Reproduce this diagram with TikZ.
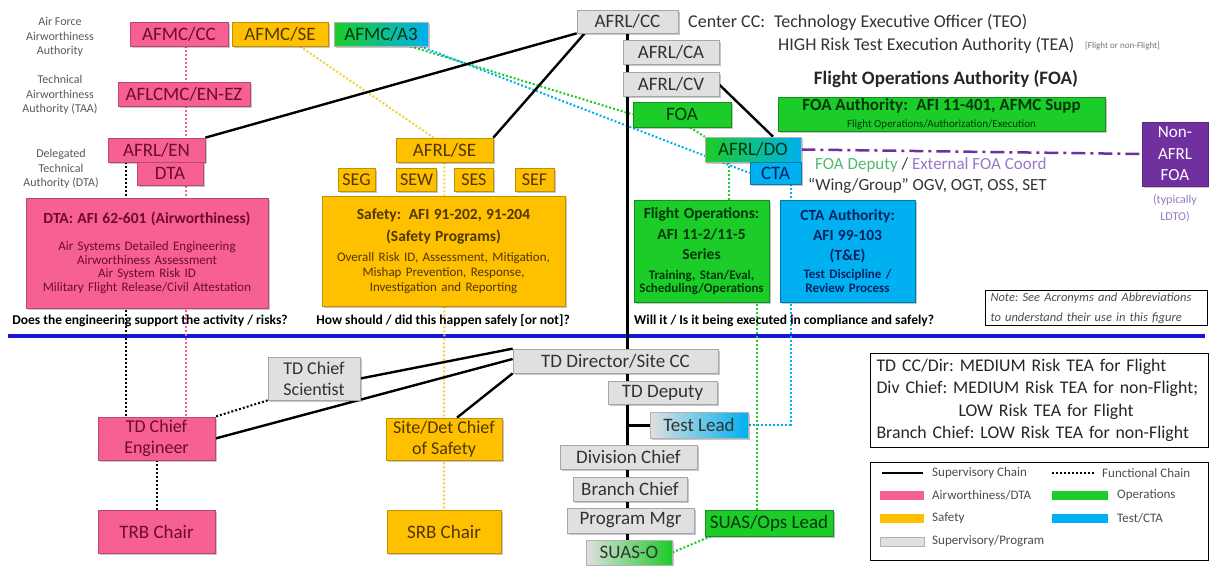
\documentclass[tikz,border=0pt]{standalone}
\usepackage{fontspec}
\setmainfont{Carlito}
\usetikzlibrary{backgrounds,positioning,shadows}

\definecolor{awpink}{RGB}{246,96,146}
\definecolor{awtext}{RGB}{110,12,42}
\definecolor{sforange}{RGB}{255,192,0}
\definecolor{sfdots}{RGB}{240,210,60}
\definecolor{sftext}{RGB}{80,55,0}
\definecolor{opgreen}{RGB}{28,204,40}
\definecolor{optext}{RGB}{0,55,10}
\definecolor{tstblue}{RGB}{0,176,240}
\definecolor{tsttext}{RGB}{0,35,95}
\definecolor{supgray}{RGB}{224,224,224}
\definecolor{suptext}{RGB}{50,50,50}
\definecolor{nonpurple}{RGB}{112,48,160}
\definecolor{lavender}{RGB}{150,120,200}
\definecolor{depgreen}{RGB}{80,185,110}
\definecolor{sepblue}{RGB}{22,22,215}

\tikzstyle{box}=[draw, line width=0.7pt, inner sep=0pt, align=center, font=\fontsize{19}{21}\selectfont,
  drop shadow={shadow xshift=1.5pt, shadow yshift=-1.5pt, fill=black, opacity=0.22}]
\tikzstyle{pinkbox}=[box, fill=awpink, draw=awpink!75!black, text=awtext]
\tikzstyle{orangebox}=[box, fill=sforange, draw=sforange!75!black, text=sftext]
\tikzstyle{greenbox}=[box, fill=opgreen, draw=opgreen!70!black, text=optext]
\tikzstyle{bluebox}=[box, fill=tstblue, draw=tstblue!70!black, text=tsttext]
\tikzstyle{graybox}=[box, fill=supgray, draw=gray!70, text=suptext]
\tikzstyle{twoline}=[font=\fontsize{18}{21}\selectfont]
\tikzstyle{supline}=[draw, line width=2.4pt]
\tikzstyle{funcline}=[draw, line width=2pt, dash pattern=on 2pt off 2pt]
\tikzstyle{sidelabel}=[align=center, inner sep=0pt, text=black!65, font=\fontsize{12}{14.5}\selectfont]
\tikzstyle{question}=[inner sep=0pt, font=\bfseries\fontsize{13.5}{15}\selectfont]
\tikzstyle{toptext}=[anchor=west, inner sep=0pt, text=black!80, font=\fontsize{18}{20}\selectfont]
\tikzstyle{legtext}=[anchor=west, inner sep=0pt, text=black!70, font=\fontsize{13}{14}\selectfont]

\newcommand{\boxhead}[1]{{\bfseries\fontsize{15.5}{18}\selectfont #1}}

\begin{document}
\frenchspacing
\begin{tikzpicture}[x=1pt,y=-1pt]
\useasboundingbox (0,0) rectangle (1209,565);

% labels on the left
\node [sidelabel] (lblafaa) at (60,37) {Air Force\\Airworthiness\\Authority};
\node [sidelabel] (lbltaa) at (60,95) {Technical\\Airworthiness\\Authority (TAA)};
\node [sidelabel] (lbldta) at (61,169) {Delegated\\Technical\\Authority (DTA)};

% AFMC row
\node [pinkbox, minimum width=98, minimum height=24] (afmccc) at (179,34) {AFMC/CC};
\node [orangebox, minimum width=96, minimum height=24] (afmcse) at (280,34) {AFMC/SE};
\node [box, left color=opgreen, right color=tstblue, draw=gray!60, text=optext, minimum width=94, minimum height=24] (afmca3) at (381,34) {AFMC/A3};

% airworthiness column
\node [pinkbox, minimum width=132, minimum height=24] (aflcmc) at (184,94) {AFLCMC/EN-EZ};
\node [pinkbox, minimum width=97, minimum height=24] (aflen) at (156.5,150) {AFRL/EN};
\node [pinkbox, minimum width=66, minimum height=23] (dta) at (170,173.5) {DTA};
\node [pinkbox, text width=242, minimum height=110, font=\fontsize{13}{13.6}\selectfont] (dtabox) at (147,253)
  {\boxhead{DTA: AFI 62-601 (Airworthiness)}\\[13pt]
   Air Systems Detailed Engineering\\Airworthiness Assessment\\Air System Risk ID\\Military Flight Release/Civil Attestation};

% safety column
\node [orangebox, minimum width=97, minimum height=24] (afrlse) at (444.5,150) {AFRL/SE};
\node [orangebox, minimum width=37, minimum height=23, font=\fontsize{18}{20}\selectfont] (seg) at (356.5,179.5) {SEG};
\node [orangebox, minimum width=40, minimum height=23, font=\fontsize{18}{20}\selectfont, right=21pt of seg] (sew) {SEW};
\node [orangebox, minimum width=39, minimum height=23, font=\fontsize{18}{20}\selectfont, right=17pt of sew] (ses) {SES};
\node [orangebox, minimum width=39, minimum height=23, font=\fontsize{18}{20}\selectfont, right=21pt of ses] (sef) {SEF};
\node [orangebox, text width=243, minimum height=110, font=\fontsize{13}{15}\selectfont] (sfbox) at (443.5,251)
  {\boxhead{Safety:\enspace AFI 91-202, 91-204}\\[7pt]
   \boxhead{(Safety Programs)}\\[5pt]
   Overall Risk ID, Assessment, Mitigation,\\Mishap Prevention, Response,\\Investigation and Reporting};

% AFRL command
\node [graybox, minimum width=101, minimum height=23] (afrlcc) at (627.5,21.5) {AFRL/CC};
\node [graybox, minimum width=96, minimum height=24] (afrlca) at (671,52) {AFRL/CA};
\node [graybox, minimum width=96, minimum height=24, below=8pt of afrlca] (afrlcv) {AFRL/CV};
\node [greenbox, minimum width=98, minimum height=25] (foa) at (682,114.5) {FOA};
\node [box, left color=opgreen, right color=tstblue, draw=gray!60, text=optext, minimum width=96, minimum height=25] (afrldo) at (753,149.5) {AFRL/DO};
\node [bluebox, minimum width=51, minimum height=22] (cta) at (775.5,173) {CTA};

% operations and test
\node [greenbox, text width=135, minimum height=102, font=\bfseries\fontsize{13}{13.5}\selectfont] (flops) at (701.5,251)
  {\boxhead{Flight Operations:}\\[6.5pt]\boxhead{AFI 11-2/11-5}\\[6.5pt]\boxhead{Series}\\[6.5pt]
   Training, Stan/Eval,\\Scheduling/Operations};
\node [bluebox, text width=135, minimum height=102, font=\bfseries\fontsize{13}{14.5}\selectfont] (ctaauth) at (847.5,251)
  {\boxhead{CTA Authority:}\\[5.5pt]\boxhead{AFI 99-103}\\[5.5pt]\boxhead{(T\&E)}\\[3.5pt]
   Test Discipline /\\Review Process};

% upper right notes
\node [toptext] (teo) at (688,22) {Center CC:\enspace Technology Executive Officer (TEO)};
\node [toptext] (tea) at (778,45) {HIGH Risk Test Execution Authority (TEA)};
\node [anchor=west, inner sep=0pt, text=black!55, font=\fontsize{9}{10}\selectfont] (teanote) at (1085,46) {[Flight or non-Flight]};
\node [inner sep=0pt, text=black!85, font=\bfseries\fontsize{19}{21}\selectfont] (foahead) at (946,79) {Flight Operations Authority (FOA)};
\node [greenbox, minimum width=327, minimum height=34, font=\fontsize{11}{12}\selectfont] (foaauth) at (941.5,114)
  {{\bfseries\fontsize{17}{18}\selectfont FOA Authority:\enspace AFI 11-401, AFMC Supp}\\[5pt]Flight Operations/Authorization/Execution};
\node [box, fill=nonpurple, draw=nonpurple!80!black, text=white, minimum width=66, minimum height=64, font=\fontsize{17}{21.5}\selectfont] (nonafrl) at (1175,154) {Non-\\AFRL\\FOA};
\node [align=center, inner sep=0pt, text=lavender, font=\fontsize{12}{17}\selectfont] (ldto) at (1175,208) {(typically\\LDTO)};
\node [toptext, font=\fontsize{17}{19}\selectfont] (foadep) at (815,165) {\textcolor{depgreen}{FOA Deputy} / \textcolor{lavender}{External FOA Coord}};
\node [toptext, font=\fontsize{17}{19}\selectfont] (wing) at (808,186) {“Wing/Group” OGV, OGT, OSS, SET};

% questions above the line
\node [question] (qdta) at (150,321) {Does the engineering support the activity / risks?};
\node [question] (qsafe) at (443,321) {How should / did this happen safely [or not]?};
\node [question, anchor=west] (qops) at (634,321) {Will it / Is it being executed in compliance and safely?};
\node [draw, line width=1pt, anchor=north west, inner xsep=5pt, inner ysep=2pt, align=left, text width=212, text=black!70, font=\itshape\fontsize{12.5}{20}\selectfont] (note) at (985,290)
  {Note: See Acronyms and Abbreviations\\to understand their use in this figure};

% test directorate
\node [graybox, minimum width=205, minimum height=24] (tddir) at (615.5,361) {TD Director/Site CC};
\node [graybox, minimum width=109, minimum height=23] (tddep) at (662.5,392.5) {TD Deputy};
\node [box, left color=supgray, right color=tstblue, draw=gray!60, text=suptext, minimum width=98, minimum height=26] (testlead) at (699,425) {Test Lead};
\node [graybox, minimum width=137, minimum height=24] (divchief) at (628.5,457) {Division Chief};
\node [graybox, minimum width=114, minimum height=24] (brchief) at (630,489) {Branch Chief};
\node [graybox, minimum width=127, minimum height=25] (progmgr) at (630.5,520.5) {Program Mgr};
\node [box, left color=supgray, right color=opgreen, draw=gray!60, text=suptext, minimum width=86, minimum height=25] (suaso) at (629,552.5) {SUAS-O};
\node [greenbox, minimum width=128, minimum height=26] (suasops) at (769,523) {SUAS/Ops Lead};
\node [graybox, twoline, minimum width=92, minimum height=43] (tdcs) at (314,378.5) {TD Chief\\Scientist};
\node [pinkbox, twoline, minimum width=117, minimum height=43] (tdce) at (156.5,438.5) {TD Chief\\Engineer};
\node [pinkbox, minimum width=117, minimum height=43, below=50pt of tdce] (trb) {TRB Chair};
\node [orangebox, twoline, minimum width=116, minimum height=42] (sitedet) at (444,439) {Site/Det Chief\\of Safety};
\node [orangebox, minimum width=114, minimum height=43, below=50pt of sitedet] (srb) {SRB Chair};

% risk levels
\node [draw, line width=1pt, anchor=north west, inner xsep=6pt, inner ysep=5pt, align=left, text width=326, minimum height=94, text=black!85, font=\fontsize{17.8}{22.5}\selectfont] (risk) at (870,353)
  {\mbox{TD CC/Dir: MEDIUM Risk TEA for Flight}\\\mbox{Div Chief: MEDIUM Risk TEA for non-Flight;}\\\mbox{\hspace*{82pt}LOW Risk TEA for Flight}\\\mbox{Branch Chief: LOW Risk TEA for non-Flight}};

% legend
\node [draw, line width=1pt, minimum width=338, minimum height=98, inner sep=0pt] (legendbox) at (1039,511) {};
\path [supline] (882,473) -- (923,473);
\node [legtext] (lgsup) at (932,473) {Supervisory Chain};
\path [funcline] (1052,473) -- (1094,473);
\node [legtext] (lgfunc) at (1102,473) {Functional Chain};
\fill [awpink] (880,491) rectangle (924,500);
\node [legtext] (lgaw) at (932,495) {Airworthiness/DTA};
\fill [opgreen] (1052,491) rectangle (1108,500);
\node [legtext] (lgops) at (1117,495) {Operations};
\fill [sforange] (880,514) rectangle (924,523);
\node [legtext] (lgsafe) at (932,518) {Safety};
\fill [tstblue] (1052,514) rectangle (1108,523);
\node [legtext] (lgtest) at (1117,518) {Test/CTA};
\filldraw [fill=supgray, draw=gray!60] (880,537) rectangle (924,546);
\node [legtext] (lgprog) at (932,541) {Supervisory/Program};

\begin{scope}[on background layer]
  \draw [sepblue, line width=3.5pt] (8,336) -- (1205,336);

  % functional chains
  \path [funcline, awpink] ([xshift=7]afmccc.south) -- ([xshift=7]afmccc.south |- tdce.north);
  \path [funcline] ([xshift=-31]aflen.south) -- ([xshift=-31]aflen.south |- tdce.north);
  \path [funcline] (tdce.south) -- (trb.north);
  \path [funcline] (tdcs.south west) -- (tdce.north east);
  \path [funcline, sfdots] ([xshift=20]afmcse.south) -- ([xshift=-11]afrlse.north);
  \path [funcline, sfdots] (afrlse.south) -- (srb.north);
  \path [funcline, opgreen] ([xshift=-18]afmca3.south east) -- (foa.west);
  \path [funcline, opgreen] ([xshift=8]foa.south) -- (afrldo.north west);
  \path [funcline, opgreen] ([xshift=-24]afrldo.south) -- ([xshift=-24]afrldo.south |- flops.north);
  \path [funcline, opgreen] ([xshift=-12]suasops.north) -- ([xshift=-12]suasops.north |- flops.south);
  \path [funcline, opgreen] (suaso.east) -- ([xshift=6]suasops.south west);
  \path [funcline, tstblue] ([xshift=-8]afmca3.south east) -- (cta.west);
  \path [funcline, tstblue] ([xshift=15]cta.south) |- (testlead.east);

  % supervisory chains
  \path [supline, line width=3pt] (afrlcc.south) -- (afrlcc.south |- suaso.north);
  \path [supline, line width=3pt] (testlead.west -| afrlcc.south) -- (testlead.west);
  \path [supline] (afrlcc.south west) -- (aflen.north east);
  \path [supline] ([xshift=8]afrlcc.south west) -- (afrlse.north east);
  \path [supline] (afrlcv.east) -- ([xshift=20]afrldo.north);
  \path [supline] (tdce.east) -- ([yshift=2]tddir.west);
  \path [supline] (tdcs.east) -- (tddir.north west);
  \path [supline] ([xshift=13]sitedet.north) -- (tddir.south west);

  % coordination with other FOA
  \path [draw, nonpurple, line width=2.5pt, dash pattern=on 14pt off 5pt on 3pt off 5pt] (afrldo.east) -- (nonafrl.west);
\end{scope}
\end{tikzpicture}
\end{document}
